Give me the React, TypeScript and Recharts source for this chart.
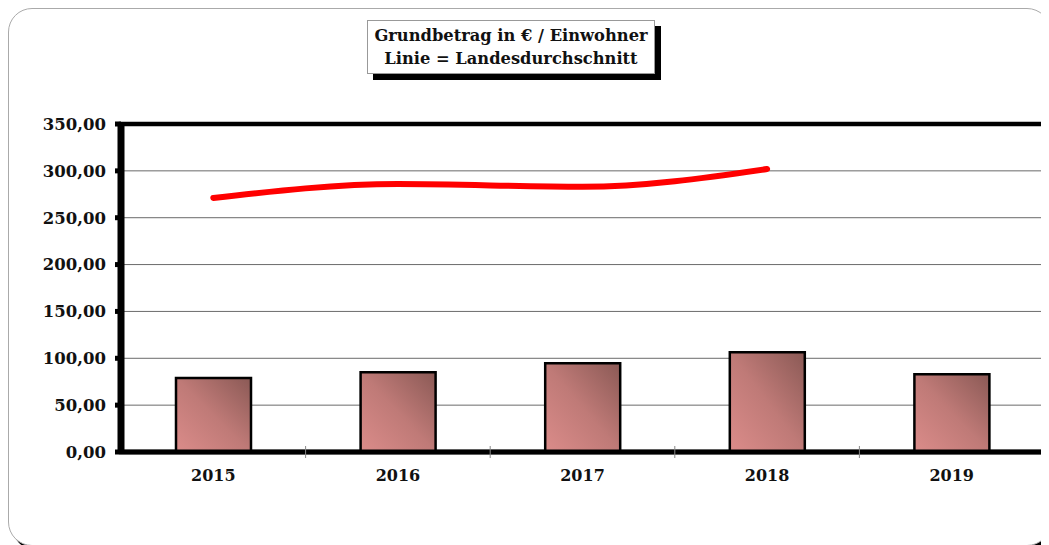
import React from "react";
import {
  ComposedChart, Bar, Line, XAxis, YAxis, CartesianGrid, ReferenceArea,
} from "recharts";

// Jahre, Grundbetrag je Einwohner (Balken) und Landesdurchschnitt (Linie)
const years = ["2015", "2016", "2017", "2018", "2019"];
const grundbetrag = [79, 85, 94.6, 106.4, 83];
const landesschnitt: (number | null)[] = [271, 286, 283, 302, null];
const yTicks = [0, 50, 100, 150, 200, 250, 300, 350];

const data = years.map((y, i) => ({
  year: y,
  betrag: grundbetrag[i],
  schnitt: landesschnitt[i],
}));

const FONT = "'DejaVu Serif', serif";

const fmt = (v: number) => v.toFixed(2).replace(".", ",");

// Beschriftung der x-Achse + kleine Striche an den Kategoriegrenzen
function XTick(props: any) {
  const { x, y, payload, index, visibleTicksCount } = props;
  const half = payload?.offset ?? 0;
  const axisY = y - 8;
  const last = index === visibleTicksCount - 1;
  return (
    <g>
      {index > 0 && (
        <line x1={x - half} x2={x - half} y1={axisY - 6} y2={axisY + 6} stroke="#888" strokeWidth={1} />
      )}
      {last && (
        <line x1={x + half} x2={x + half} y1={axisY - 6} y2={axisY + 6} stroke="#888" strokeWidth={1} />
      )}
      <text x={x} y={y} dy={21} textAnchor="middle" fill="#111"
        style={{ fontFamily: FONT, fontSize: 16, fontWeight: "bold" }}>
        {payload.value}
      </text>
    </g>
  );
}

export default function App() {
  return (
    <div style={{ width: 1041, height: 537, overflow: "hidden", position: "relative" }}>
      <div style={{
        position: "absolute", left: 0, top: 0, width: 1041, height: 536,
        border: "1px solid #aaa", borderRadius: 24, boxShadow: "4px 4px 0 #000",
        background: "#fff",
      }}>
        <div style={{
          position: "absolute", left: 358, top: 11, width: 286, height: 49,
          border: "1px solid #999", boxShadow: "6px 6px 0 #000", background: "#fff",
          fontFamily: FONT, fontWeight: "bold", fontSize: 16.3, lineHeight: "23px",
          textAlign: "center", color: "#111", paddingTop: 3, boxSizing: "content-box",
        }}>
          Grundbetrag in € / Einwohner<br />Linie = Landesdurchschnitt
        </div>

        <ComposedChart width={1041} height={530} data={data}
          margin={{ top: 115, right: 6, bottom: 57, left: 0 }}>
          <defs>
            <linearGradient id="barFill" x1="0" y1="1" x2="1" y2="0">
              <stop offset="0%" stopColor="#db8c8a" />
              <stop offset="50%" stopColor="#bf7a77" />
              <stop offset="100%" stopColor="#8a5955" />
            </linearGradient>
          </defs>
          <CartesianGrid vertical={false} stroke="#6a6a6a" strokeWidth={1} />
          <ReferenceArea y1={0} y2={350} fill="none" stroke="#000" strokeWidth={4.5} ifOverflow="visible" />
          <XAxis dataKey="year" axisLine={{ stroke: "#000", strokeWidth: 5 }}
            tickLine={false} tickSize={6} tickMargin={2} height={30} tick={<XTick />} />
          <YAxis domain={[0, 350]} ticks={yTicks} width={112} tickFormatter={fmt}
            axisLine={{ stroke: "#000", strokeWidth: 7 }}
            tickLine={{ stroke: "#000", strokeWidth: 5 }} tickSize={6} tickMargin={9}
            tick={{ fill: "#111", fontSize: 16.5, fontFamily: FONT, fontWeight: "bold" }} />
          <Bar dataKey="betrag" barSize={75} fill="url(#barFill)" stroke="#000" strokeWidth={2.5}
            isAnimationActive={false} />
          <Line dataKey="schnitt" type="monotone" stroke="#ff0000" strokeWidth={6}
            strokeLinecap="round" dot={false} activeDot={false} isAnimationActive={false} />
        </ComposedChart>
      </div>
    </div>
  );
}
